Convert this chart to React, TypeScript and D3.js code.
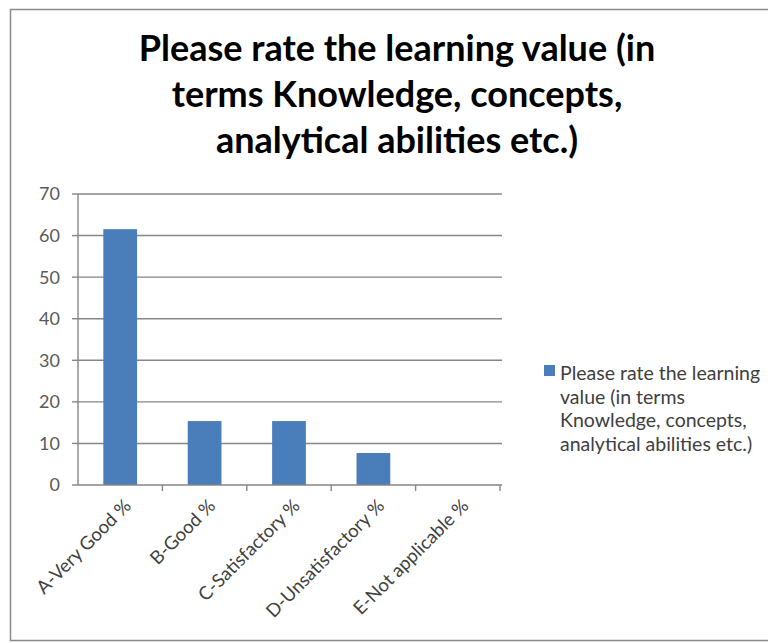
import React from "react";
import * as d3 from "d3";

const categories = ["A-Very Good %", "B-Good %", "C-Satisfactory %", "D-Unsatisfactory %", "E-Not applicable %"];
const values = [61.54, 15.38, 15.38, 7.69, 0];
const yTicks = [0, 10, 20, 30, 40, 50, 60, 70];
const titleLines = ["Please rate the learning value (in", "terms Knowledge, concepts,", "analytical abilities etc.)"];
const legendLines = ["Please rate the learning", "value (in terms", "Knowledge, concepts,", "analytical abilities etc.)"];

const W = 768;
const H = 643;
const plot = { left: 78, right: 500, top: 194, bottom: 485 };
const font = "Lato, 'Open Sans', sans-serif";

export default function App() {
  const x = d3.scaleBand<string>().domain(categories).range([plot.left, plot.right]).paddingInner(0).paddingOuter(0);
  const y = d3.scaleLinear().domain([0, 70]).range([plot.bottom, plot.top]);
  const bw = x.bandwidth() / 2.5;
  const bounds = categories.map((c) => x(c)! + x.bandwidth());

  return (
    <svg width={W} height={H} style={{ position: "absolute", left: 0, top: 0, background: "#fff" }}>
      <rect x={10.5} y={9.5} width={800} height={631} fill="#fff" stroke="#8a8a8a" strokeWidth={1.5} />
      {titleLines.map((t, i) => (
        <text key={i} x={397} y={61 + i * 46} textAnchor="middle" fontFamily={font} fontWeight={700} fontSize={36} fill="#000">
          {t}
        </text>
      ))}
      {yTicks.map((t) => (
        <g key={t}>
          {t > 0 && <line x1={plot.left} x2={plot.right + 2} y1={y(t)} y2={y(t)} stroke="#868686" strokeWidth={1.4} />}
          <line x1={plot.left - 6} x2={plot.left} y1={y(t)} y2={y(t)} stroke="#868686" strokeWidth={1.4} />
          <text x={60} y={y(t)} dy="0.36em" textAnchor="end" fontFamily={font} fontSize={18} fill="#595959">
            {t}
          </text>
        </g>
      ))}
      {categories.map((c, i) => (
        <rect key={c} x={x(c)! + (x.bandwidth() - bw) / 2} y={y(values[i])} width={bw} height={y(0) - y(values[i])} fill="#4a7ebb" />
      ))}
      <line x1={plot.left} x2={plot.left} y1={plot.top} y2={plot.bottom} stroke="#868686" strokeWidth={1.4} />
      <line x1={plot.left} x2={plot.right + 2} y1={plot.bottom} y2={plot.bottom} stroke="#868686" strokeWidth={1.4} />
      {bounds.map((b, i) => (
        <line key={i} x1={b} x2={b} y1={plot.bottom} y2={plot.bottom + 6} stroke="#868686" strokeWidth={1.4} />
      ))}
      {categories.map((c) => {
        const cx = x(c)! + x.bandwidth() / 2 + 12;
        const cy = plot.bottom + 22;
        return (
          <text key={c} x={cx} y={cy} textAnchor="end" transform={`rotate(-45 ${cx} ${cy})`} fontFamily={font} fontSize={18.5} fill="#404040">
            {c}
          </text>
        );
      })}
      <rect x={544} y={365} width={11} height={11} fill="#4a7ebb" />
      {legendLines.map((t, i) => (
        <text key={i} x={560} y={380 + i * 23.5} fontFamily={font} fontSize={19.5} fill="#404040">
          {t}
        </text>
      ))}
    </svg>
  );
}
